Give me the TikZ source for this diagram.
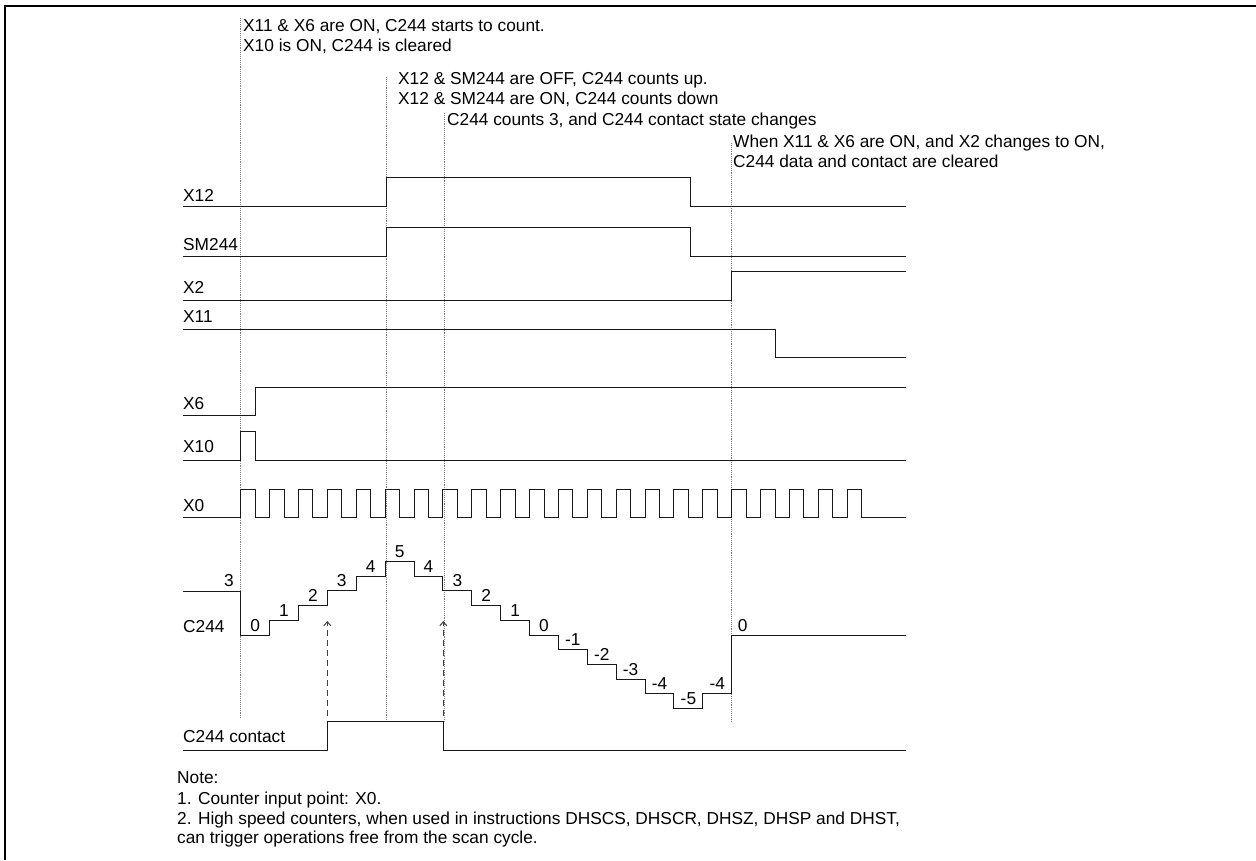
\documentclass[tikz,border=0pt]{standalone}
\usepackage{fontspec}
\setmainfont{Liberation Sans}
\usepackage{tikz}
\usetikzlibrary{arrows.meta}

\newcommand{\clkper}{28.886}
\newcommand{\clkzero}{240.7}
\newcommand{\stepht}{14.67}

\begin{document}
\begin{tikzpicture}[x=1pt, y=-1pt,
    sig/.style={line width=1pt, draw=black!90},
    frame/.style={line width=2.2pt, draw=black},
    guide/.style={line width=0.9pt, draw=black!50, densely dotted},
    cue/.style={line width=1pt, draw=black!75, dash pattern=on 6pt off 4pt, -{Straight Barb[length=4pt, width=7pt]}},
    txt/.style={anchor=base west, inner sep=0pt, font=\fontsize{17.3}{20}\selectfont},
    lvl/.style={anchor=base, inner sep=0pt, font=\fontsize{17.3}{20}\selectfont}
]
    \useasboundingbox (0,0) rectangle (1256,860);
    \draw[frame] (5,860) -- (5,6) -- (1256,6);

    % Hinweise oben
    \node[txt] (hintA1) at (243,31.7) {X11 \& X6 are ON, C244 starts to count.};
    \node[txt] (hintA2) at (243,51.7) {X10 is ON, C244 is cleared};
    \node[txt] (hintB1) at (398,84.5) {X12 \& SM244 are OFF, C244 counts up.};
    \node[txt] (hintB2) at (398,104) {X12 \& SM244 are ON, C244 counts down};
    \node[txt] (hintC) at (447,125) {C244 counts 3, and C244 contact state changes};
    \node[txt] (hintD1) at (733,147.3) {When X11 \& X6 are ON, and X2 changes to ON,};
    \node[txt] (hintD2) at (733,167) {C244 data and contact are cleared};

    % Hilfslinien
    \draw[guide] (240.5,18) -- (240.5,718);
    \draw[guide] (386,77) -- (386,722);
    \draw[guide] (444,113) -- (444,722);
    \draw[guide] (731,143) -- (731,722);

    % Signalnamen
    \node[txt] (nX12) at (183,201) {X12};
    \node[txt] (nSM) at (183,250) {SM244};
    \node[txt] (nX2) at (183,293) {X2};
    \node[txt] (nX11) at (183,322.7) {X11};
    \node[txt] (nX6) at (183,409) {X6};
    \node[txt] (nX10) at (183,452) {X10};
    \node[txt] (nX0) at (183,511.7) {X0};
    \node[txt] (nC) at (183,632) {C244};
    \node[txt] (nCc) at (183,742) {C244 contact};

    % Signalverlaeufe
    \draw[sig] (183,206) -| (386,177.7) -| (690.3,206) -- (906,206);
    \draw[sig] (183,256) -| (386,227.3) -| (690.3,256) -- (906,256);
    \draw[sig] (183,300) -| (731.7,271.7) -- (906,271.7);
    \draw[sig] (183,329) -| (775,357.7) -- (906,357.7);
    \draw[sig] (183,415.7) -| (255.3,387.3) -- (906,387.3);
    \draw[sig] (183,460) -| (240.7,431.7) -| (255.3,460) -- (906,460);
    \draw[sig] (183,517.5) -- (\clkzero,517.5)
        foreach \k in {0,...,21} { -- ++(0,-28.2) -- ++({\clkper/2},0) -- ++(0,28.2) -- ({\clkzero+(\k+1)*\clkper},517.5) }
        -- (906,517.5);

    % Zaehlerstand C244
    \draw[sig] (183,591) -| (\clkzero,635) -- ({\clkzero+\clkper},635)
        foreach \v [count=\k] in {1,2,3,4,5,4,3,2,1,0,-1,-2,-3,-4,-5,-4} { |- ({\clkzero+(\k+1)*\clkper},{635-\stepht*\v}) }
        |- (906,635);
    \node[lvl] (lvstart) at (229,586) {3};
    \foreach \v [count=\k from 0] in {0,1,2,3,4,5,4,3,2,1,0,-1,-2,-3,-4,-5,-4}
        \node[lvl] (lv\k) at ({\clkzero+(\k+0.5)*\clkper},{631-\stepht*\v}) {\v};
    \node[lvl] (lvend) at (742.7,631) {0};

    % Kontakt C244
    \draw[sig] (183,750) -| (327.3,721.7) -| (443.3,750) -- (906,750);
    \coordinate (cueA) at (327.3,621);
    \coordinate (cueB) at (443.3,621);
    \draw[cue] (327.3,716) -- (cueA);
    \draw[cue] (443.3,716) -- (cueB);

    % Anmerkungen
    \node[txt] (rem0) at (177,783.5) {Note:};
    \node[txt] (rem1) at (177,804) {1. Counter input point: X0.};
    \node[txt] (rem2) at (177,824) {2. High speed counters, when used in instructions DHSCS, DHSCR, DHSZ, DHSP and DHST,};
    \node[txt] (rem3) at (177,843.5) {can trigger operations free from the scan cycle.};
\end{tikzpicture}
\end{document}
